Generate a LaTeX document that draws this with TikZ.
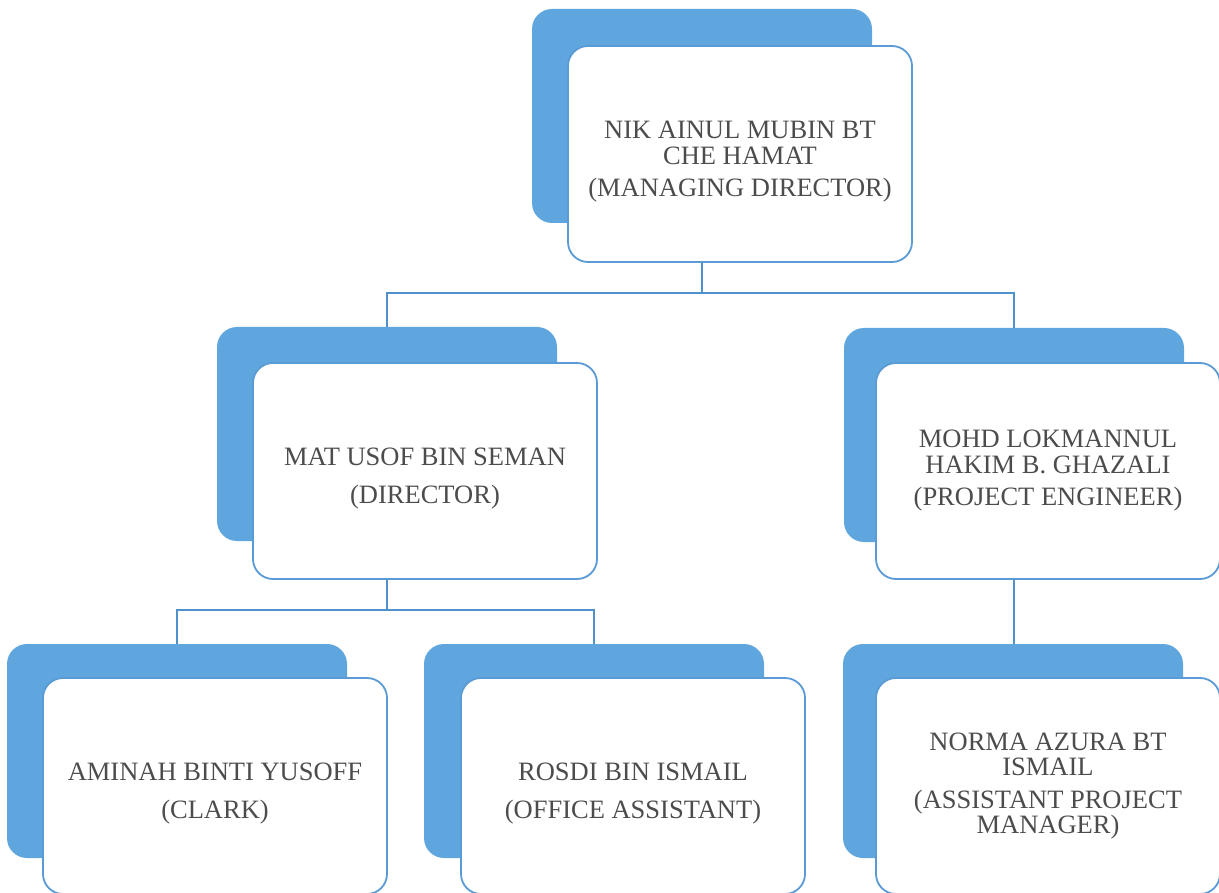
\documentclass[tikz,border=0pt]{standalone}
\usepackage{fontspec}
\setmainfont{Liberation Serif}
\definecolor{backblue}{HTML}{5FA6DE}
\definecolor{edgeblue}{HTML}{5B9BD5}
\definecolor{linkblue}{HTML}{4F91CC}
\definecolor{txtgray}{HTML}{4C4C4C}
\tikzset{
  backbox/.style={fill=backblue, draw=none, rounded corners=20pt, minimum width=340pt, minimum height=214pt, inner sep=0pt},
  frontbox/.style={fill=white, draw=edgeblue, line width=1.8pt, rounded corners=20pt, minimum width=344pt, minimum height=216pt, inner sep=0pt, align=center, text=txtgray, font=\fontsize{26.5}{25.5}\selectfont},
  conn/.style={draw=linkblue, line width=2pt}
}
\newcommand{\gapsmall}{\\[7pt]}
\newcommand{\gapbig}{\\[12pt]}
\newcommand{\tallstrut}{\rule{0pt}{33pt}}
\begin{document}
\begin{tikzpicture}[x=1pt,y=-1pt]
\useasboundingbox (0,0) rectangle (1219,893);
% top
\node[backbox] (mdB) at (702,116) {};
\node[frontbox] (md) at (740,154) {\tallstrut NIK AINUL MUBIN BT\\CHE HAMAT\gapsmall(MANAGING DIRECTOR)};
% director
\node[backbox] (dirB) at (387,434) {};
\node[frontbox] (dir) at (425,471) {\tallstrut MAT USOF BIN SEMAN\gapbig(DIRECTOR)};
% engineer
\node[backbox] (engB) at (1014,435) {};
\node[frontbox] (eng) at (1048,471) {MOHD LOKMANNUL\\HAKIM B. GHAZALI\gapsmall(PROJECT ENGINEER)};
% bottom row
\node[backbox] (clkB) at (177,751) {};
\node[frontbox] (clk) at (215,786) {\tallstrut AMINAH BINTI YUSOFF\gapbig(CLARK)};
\node[backbox] (oaB) at (594,751) {};
\node[frontbox] (oa) at (633,786) {\tallstrut ROSDI BIN ISMAIL\gapbig(OFFICE ASSISTANT)};
\node[backbox] (apmB) at (1013,751) {};
\node[frontbox] (apm) at (1048,786) {NORMA AZURA BT\\ISMAIL\gapsmall(ASSISTANT PROJECT\\MANAGER)};
% connectors
\draw[conn] (mdB.center |- md.south) -- ++(0,30) -| (dirB.north);
\draw[conn] (mdB.center |- md.south) -- ++(0,30) -| (engB.north);
\draw[conn] (dirB.center |- dir.south) -- ++(0,30) -| (clkB.north);
\draw[conn] (dirB.center |- dir.south) -- ++(0,30) -| (oaB.north);
\draw[conn] (engB.center |- eng.south) -- (apmB.north -| engB.center);
\end{tikzpicture}
\end{document}
